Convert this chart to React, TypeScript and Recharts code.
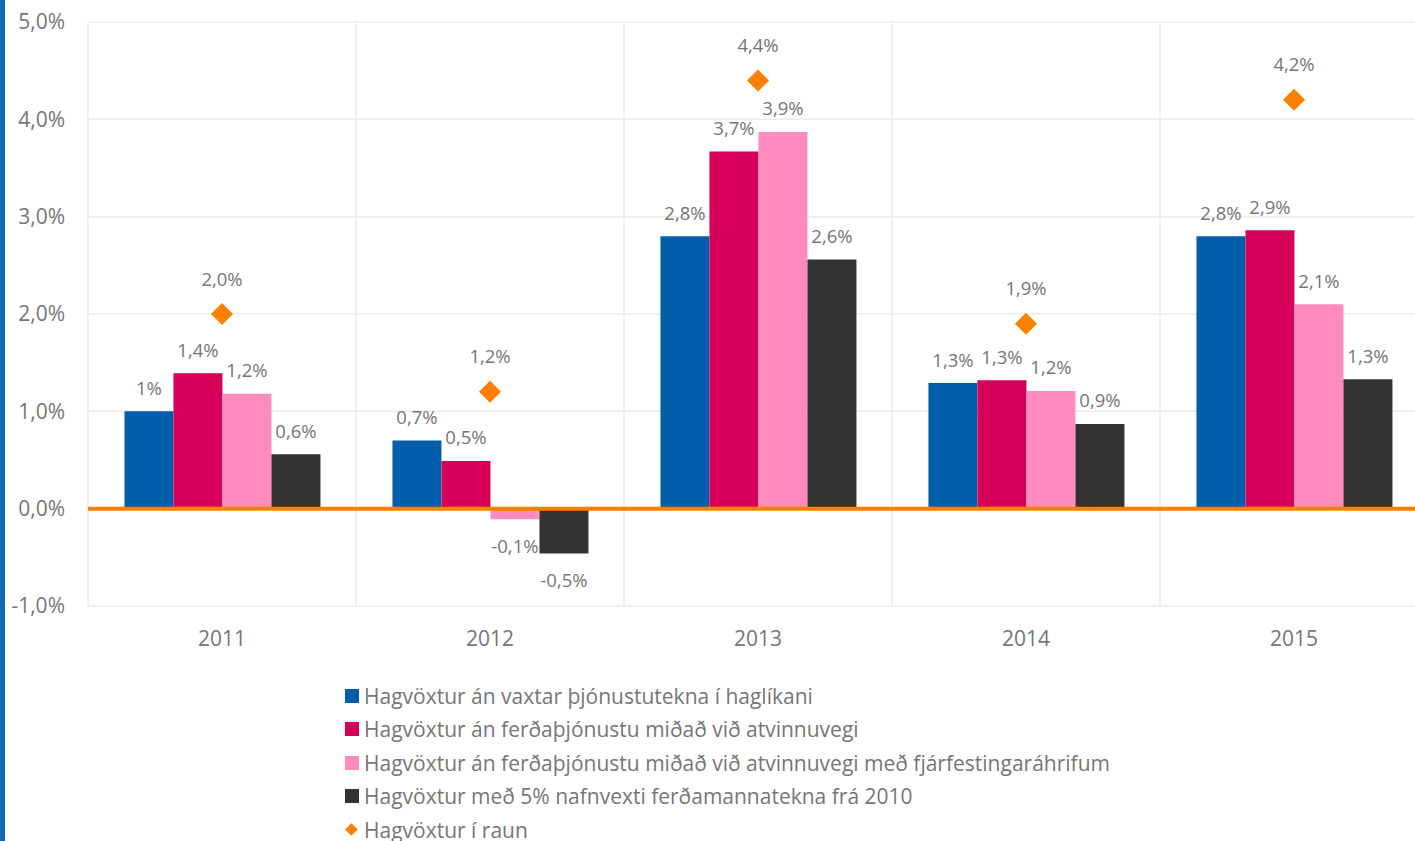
import React from "react";
import {
  ComposedChart,
  Bar,
  Line,
  XAxis,
  YAxis,
  CartesianGrid,
  ReferenceLine,
  LabelList,
} from "recharts";

const years = ["2011", "2012", "2013", "2014", "2015"];

const seriesNames = [
  "Hagvöxtur án vaxtar þjónustutekna í haglíkani",
  "Hagvöxtur án ferðaþjónustu miðað við atvinnuvegi",
  "Hagvöxtur án ferðaþjónustu miðað við atvinnuvegi með fjárfestingaráhrifum",
  "Hagvöxtur með 5% nafnvexti ferðamannatekna frá 2010",
  "Hagvöxtur í raun",
];

const blueVals = [1.0, 0.7, 2.8, 1.29, 2.8];
const blueLabels = ["1%", "0,7%", "2,8%", "1,3%", "2,8%"];
const magentaVals = [1.39, 0.49, 3.67, 1.32, 2.86];
const magentaLabels = ["1,4%", "0,5%", "3,7%", "1,3%", "2,9%"];
const pinkVals = [1.18, -0.11, 3.87, 1.21, 2.1];
const pinkLabels = ["1,2%", "-0,1%", "3,9%", "1,2%", "2,1%"];
const darkVals = [0.56, -0.46, 2.56, 0.87, 1.33];
const darkLabels = ["0,6%", "-0,5%", "2,6%", "0,9%", "1,3%"];
const actualVals = [2.0, 1.2, 4.4, 1.9, 4.2];
const actualLabels = ["2,0%", "1,2%", "4,4%", "1,9%", "4,2%"];

const yTicks = [-1, 0, 1, 2, 3, 4, 5];

const colors = ["#005eaa", "#d6005a", "#ff8bbf", "#333333", "#ff7f00"];
const textColor = "#767676";
const font = "'Open Sans', sans-serif";

const data = years.map((y, i) => ({
  year: y,
  blue: blueVals[i],
  magenta: magentaVals[i],
  pink: pinkVals[i],
  dark: darkVals[i],
  actual: actualVals[i],
}));

const barLabel = (labels: string[], values: number[]) => (props: any) => {
  const { x, y, width, height, index } = props;
  const top = Math.min(y, y + height);
  const bottom = Math.max(y, y + height);
  const neg = values[index] < 0;
  return (
    <text
      x={x + width / 2}
      y={neg ? bottom + 26 : top - 24}
      textAnchor="middle"
      dominantBaseline="central"
      fill={textColor}
      fontSize={18.5}
      fontFamily={font}
    >
      {labels[index]}
    </text>
  );
};

const diamondLabel = (props: any) => {
  const { x, y, index } = props;
  return (
    <text
      x={x}
      y={y - 36}
      textAnchor="middle"
      dominantBaseline="central"
      fill={textColor}
      fontSize={18.5}
      fontFamily={font}
    >
      {actualLabels[index]}
    </text>
  );
};

const Diamond = (props: any) => {
  const { cx, cy } = props;
  if (cx == null || cy == null) return null;
  const r = 11;
  return (
    <path
      d={`M${cx},${cy - r}L${cx + r},${cy}L${cx},${cy + r}L${cx - r},${cy}Z`}
      fill={colors[4]}
    />
  );
};

export default function App() {
  return (
    <div
      style={{
        position: "absolute",
        left: 0,
        top: 0,
        width: 1415,
        height: 841,
        overflow: "hidden",
        background: "#fff",
        fontFamily: font,
      }}
    >
      <div
        style={{
          position: "absolute",
          left: 0,
          top: 0,
          width: 5,
          height: 841,
          background: "#1169b5",
        }}
      />
      <div style={{ position: "absolute", left: 0, top: 0 }}>
        <ComposedChart
          width={1440}
          height={660}
          data={data}
          margin={{ top: 22, right: 12, left: 0, bottom: 0 }}
          barCategoryGap="13.6%"
          barGap={0}
        >
          <CartesianGrid
            stroke="#ececec"
            strokeWidth={1.5}
            verticalCoordinatesGenerator={({ offset }: any) =>
              [0, 1, 2, 3, 4, 5].map(
                (k) => offset.left + (k * offset.width) / years.length
              )
            }
          />
          <XAxis
            dataKey="year"
            height={54}
            axisLine={false}
            tickLine={false}
            tickSize={0}
            tickMargin={25}
            tick={{ fill: textColor, fontSize: 21, fontFamily: font }}
          />
          <YAxis
            width={88}
            domain={[-1, 5]}
            ticks={yTicks}
            axisLine={false}
            tickLine={false}
            tickSize={0}
            tickMargin={23}
            tickFormatter={(v: number) => v.toFixed(1).replace(".", ",") + "%"}
            tick={{ fill: textColor, fontSize: 21, fontFamily: font }}
          />
          <Bar dataKey="blue" fill={colors[0]} isAnimationActive={false}>
            <LabelList dataKey="blue" content={barLabel(blueLabels, blueVals)} />
          </Bar>
          <Bar dataKey="magenta" fill={colors[1]} isAnimationActive={false}>
            <LabelList
              dataKey="magenta"
              content={barLabel(magentaLabels, magentaVals)}
            />
          </Bar>
          <Bar dataKey="pink" fill={colors[2]} isAnimationActive={false}>
            <LabelList dataKey="pink" content={barLabel(pinkLabels, pinkVals)} />
          </Bar>
          <Bar dataKey="dark" fill={colors[3]} isAnimationActive={false}>
            <LabelList dataKey="dark" content={barLabel(darkLabels, darkVals)} />
          </Bar>
          <ReferenceLine y={0} stroke={colors[4]} strokeWidth={4} />
          <Line
            dataKey="actual"
            stroke="none"
            dot={<Diamond />}
            activeDot={false}
            isAnimationActive={false}
          >
            <LabelList dataKey="actual" content={diamondLabel} />
          </Line>
        </ComposedChart>
      </div>

      {/* Legend */}
      <div style={{ position: "absolute", left: 345, top: 679 }}>
        {seriesNames.map((name, i) => (
          <div
            key={name}
            style={{
              display: "flex",
              alignItems: "center",
              height: 33.5,
              fontSize: 21,
              color: textColor,
              whiteSpace: "nowrap",
            }}
          >
            {i < 4 ? (
              <span
                style={{
                  width: 14,
                  height: 14,
                  background: colors[i],
                  marginRight: 5,
                  display: "inline-block",
                }}
              />
            ) : (
              <span
                style={{
                  width: 9,
                  height: 9,
                  background: colors[i],
                  transform: "rotate(45deg)",
                  marginLeft: 2,
                  marginRight: 8,
                  display: "inline-block",
                }}
              />
            )}
            {name}
          </div>
        ))}
      </div>
    </div>
  );
}
